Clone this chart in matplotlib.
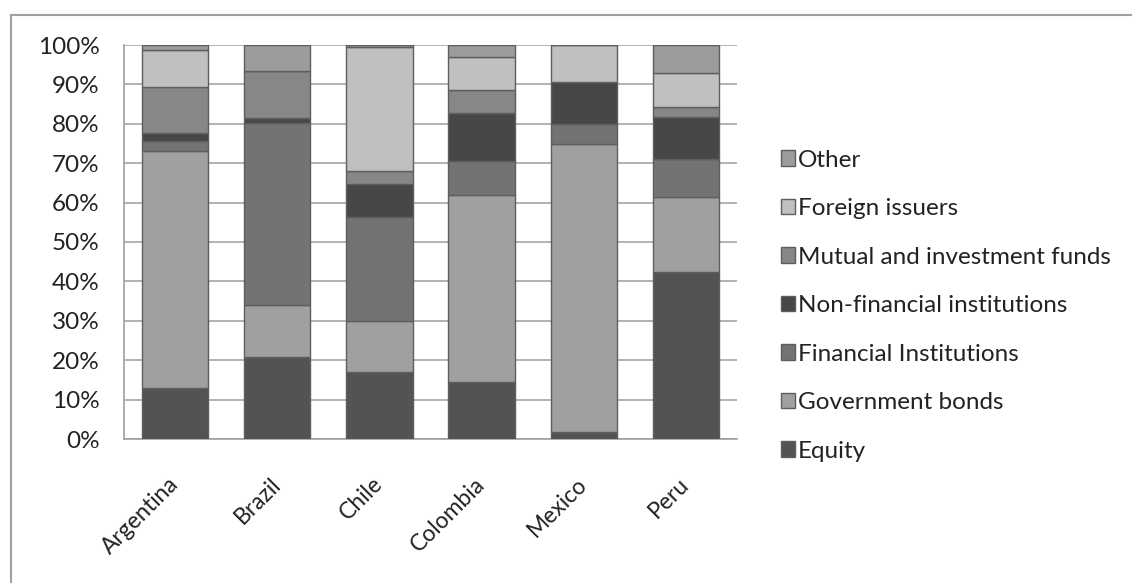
import matplotlib
matplotlib.use("Agg")
import matplotlib.pyplot as plt
from matplotlib.lines import Line2D
from matplotlib.patches import Patch
import numpy as np

plt.rcParams['font.family'] = ['Lato', 'DejaVu Sans']

countries = ["Argentina", "Brazil", "Chile", "Colombia", "Mexico", "Peru"]
series_names = ["Equity", "Government bonds", "Financial Institutions",
                "Non-financial institutions", "Mutual and investment funds",
                "Foreign issuers", "Other"]
equity     = [13.0, 20.9, 17.1, 14.5, 1.9, 42.5]
gov_bonds  = [60.2, 13.0, 12.9, 47.4, 73.0, 19.0]
fin_inst   = [2.5, 46.2, 26.3, 8.7, 5.1, 9.5]
nonfin     = [1.9, 1.4, 8.3, 12.2, 10.6, 10.8]
mutual     = [11.7, 12.0, 3.5, 5.8, 0.0, 2.5]
foreign    = [9.4, 0.0, 31.5, 8.4, 9.4, 8.5]
other      = [1.3, 6.5, 0.4, 3.0, 0.0, 7.2]
yticks = [0, 10, 20, 30, 40, 50, 60, 70, 80, 90, 100]
ytick_labels = ["0%", "10%", "20%", "30%", "40%", "50%", "60%", "70%", "80%", "90%", "100%"]

data = [equity, gov_bonds, fin_inst, nonfin, mutual, foreign, other]
colors = ["#535353", "#a0a0a0", "#737373", "#474747", "#878787", "#c0c0c0", "#9c9c9c"]
edge = "#5e5e5e"

fig = plt.figure(figsize=(11.32, 5.83), dpi=100)
ax = fig.add_axes([124/1132, 1 - 439/583, (737-124)/1132, (439-45)/583])

x = np.arange(len(countries))
bottom = np.zeros(len(countries))
for vals, c in zip(data, colors):
    v = np.array(vals)
    ax.bar(x, v, 0.65, bottom=bottom, color=c, edgecolor=edge, linewidth=1.0, zorder=3)
    bottom += v

ax.set_xlim(-0.5, len(countries) - 0.5)
ax.set_ylim(0, 100)
ax.set_yticks(yticks)
ax.set_yticklabels(ytick_labels, fontsize=17.5, color="#222222")
ax.yaxis.grid(True, color="#a6a6a6", linewidth=1.2, zorder=0)
ax.tick_params(axis='both', length=0)
ax.tick_params(axis='y', pad=17.5)
ax.set_xticks(x)
ax.set_xticklabels(countries, fontsize=16.5, color="#222222", rotation=45,
                   ha='right', va='center', rotation_mode='anchor')
ax.tick_params(axis='x', pad=30)
for s in ['top', 'right']:
    ax.spines[s].set_visible(False)
for s in ['left', 'bottom']:
    ax.spines[s].set_color("#a0a0a0")
    ax.spines[s].set_linewidth(1.2)

handles = [Patch(facecolor=c, edgecolor=edge, linewidth=1.0) for c in colors]
leg = fig.legend(handles[::-1], series_names[::-1], loc='upper left',
                 bbox_to_anchor=(771/1132, 1 - 140/583), frameon=False,
                 fontsize=17.5, handlelength=0.6, handleheight=0.6,
                 handletextpad=0.12, labelspacing=1.13, borderaxespad=0)
for t in leg.get_texts():
    t.set_color("#222222")

# outer chart border (left and top visible)
fig.add_artist(Line2D([11/1132, 11/1132], [0, 1 - 15/583], transform=fig.transFigure,
                      color="#a0a0a0", linewidth=1.5))
fig.add_artist(Line2D([11/1132, 1131/1132], [1 - 15/583, 1 - 15/583], transform=fig.transFigure,
                      color="#a0a0a0", linewidth=1.5))

fig.savefig("out.png", dpi=100)
